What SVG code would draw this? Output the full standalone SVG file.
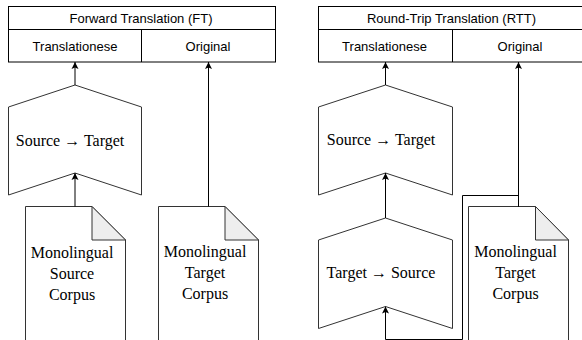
<svg xmlns="http://www.w3.org/2000/svg" width="582" height="340" viewBox="0 0 582 340">
  <style>
    .box { fill: #ffffff; stroke: #000000; stroke-width: 1; }
    .shape { fill: #ffffff; stroke: #333333; stroke-width: 1; stroke-linejoin: miter; }
    .fold { fill: #eeeeee; stroke: #333333; stroke-width: 1; }
    .conn { fill: none; stroke: #000000; stroke-width: 1; }
    .sans { font-family: "Liberation Sans", Arial, sans-serif; font-size: 13px; fill: #000000; text-anchor: middle; }
    .serif { font-family: "Liberation Serif", "Times New Roman", serif; font-size: 16px; fill: #000000; text-anchor: middle; }
  </style>
  <defs>
    <marker id="arrow" viewBox="0 0 10 10" refX="10" refY="5" markerWidth="7" markerHeight="9" markerUnits="userSpaceOnUse" orient="auto">
      <path d="M0,0 L10,5 L0,10 L2,5 Z" fill="#000000"/>
    </marker>
  </defs>
  <rect width="582" height="340" fill="#ffffff"/>

  <!-- Left panel: Forward Translation -->
  <g id="ft-table">
    <rect class="box" x="8.5" y="6.5" width="267" height="55.5"/>
    <line class="box" x1="8.5" y1="29.5" x2="275.5" y2="29.5"/>
    <line class="box" x1="141.5" y1="29.5" x2="141.5" y2="62"/>
    <text class="sans" x="141" y="23">Forward Translation (FT)</text>
    <text class="sans" x="75" y="51">Translationese</text>
    <text class="sans" x="208" y="51">Original</text>
  </g>
  <g id="ft-model">
    <path class="shape" d="M8.5,107 L75,85 L141.5,107 L141.5,195 L75,173 L8.5,195 Z"/>
    <text class="serif" x="70" y="145.5">Source → Target</text>
  </g>
  <g id="ft-source-corpus">
    <path class="shape" d="M25.5,345 L25.5,206.5 L92,206.5 L125.5,240 L125.5,345"/>
    <path class="fold" d="M92,206.5 L92,240 L125.5,240 Z"/>
    <text class="serif" x="72" y="257.5">Monolingual</text>
    <text class="serif" x="72" y="279">Source</text>
    <text class="serif" x="72" y="299.5">Corpus</text>
  </g>
  <g id="ft-target-corpus">
    <path class="shape" d="M158.5,345 L158.5,206.5 L225,206.5 L258.5,240 L258.5,345"/>
    <path class="fold" d="M225,206.5 L225,240 L258.5,240 Z"/>
    <text class="serif" x="205" y="256.5">Monolingual</text>
    <text class="serif" x="205" y="277.5">Target</text>
    <text class="serif" x="205" y="298.5">Corpus</text>
  </g>

  <!-- Right panel: Round-Trip Translation -->
  <g id="rtt-table">
    <rect class="box" x="318.5" y="6.5" width="267" height="55.5"/>
    <line class="box" x1="318.5" y1="29.5" x2="585.5" y2="29.5"/>
    <line class="box" x1="452.5" y1="29.5" x2="452.5" y2="62"/>
    <text class="sans" x="451.5" y="23">Round-Trip Translation (RTT)</text>
    <text class="sans" x="384.5" y="51">Translationese</text>
    <text class="sans" x="520" y="51">Original</text>
  </g>
  <g id="rtt-forward-model">
    <path class="shape" d="M318.5,107 L385.5,85 L452.5,107 L452.5,195 L385.5,173 L318.5,195 Z"/>
    <text class="serif" x="381" y="145">Source → Target</text>
  </g>
  <g id="rtt-backward-model">
    <path class="shape" d="M318.5,240 L385.5,218 L452.5,240 L452.5,328.5 L385.5,306.5 L318.5,328.5 Z"/>
    <text class="serif" x="381" y="277.5">Target → Source</text>
  </g>
  <g id="rtt-target-corpus">
    <path class="shape" d="M468.5,345 L468.5,206.5 L535.5,206.5 L568.5,240 L568.5,345"/>
    <path class="fold" d="M535.5,206.5 L535.5,240 L568.5,240 Z"/>
    <text class="serif" x="515.5" y="256.5">Monolingual</text>
    <text class="serif" x="515.5" y="278">Target</text>
    <text class="serif" x="515.5" y="299">Corpus</text>
  </g>

  <g id="connectors">
    <line class="conn" x1="75" y1="85" x2="75" y2="62" marker-end="url(#arrow)"/>
    <line class="conn" x1="75" y1="206.5" x2="75" y2="173" marker-end="url(#arrow)"/>
    <line class="conn" x1="208.5" y1="206.5" x2="208.5" y2="62" marker-end="url(#arrow)"/>
    <line class="conn" x1="385.5" y1="85" x2="385.5" y2="62" marker-end="url(#arrow)"/>
    <line class="conn" x1="385.5" y1="218" x2="385.5" y2="173" marker-end="url(#arrow)"/>
    <line class="conn" x1="518.5" y1="206.5" x2="518.5" y2="62" marker-end="url(#arrow)"/>
    <path class="conn" d="M518.5,206.5 L518.5,195.5 L462.5,195.5 L462.5,339.5 L385.5,339.5 L385.5,306.5" marker-end="url(#arrow)"/>
  </g>
</svg>
